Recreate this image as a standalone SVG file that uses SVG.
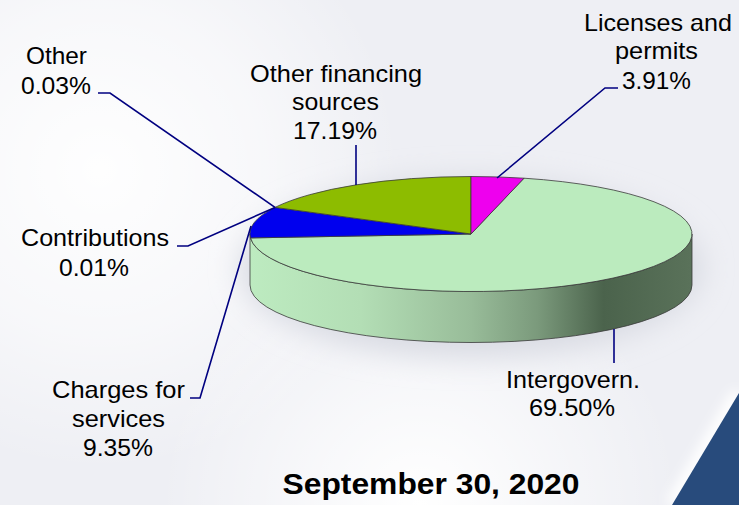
<svg xmlns="http://www.w3.org/2000/svg" width="739" height="505" viewBox="0 0 739 505">
  <style>
    .lbl { font-family: "Liberation Sans", Arial, sans-serif; font-size: 24px; fill: #000; text-anchor: middle; }
    .title { font-family: "Liberation Sans", Arial, sans-serif; font-size: 29px; font-weight: bold; fill: #000; text-anchor: middle; }
    .lead { fill: none; stroke: #000080; stroke-width: 1.6; }
    .slice { stroke: #3a3a3a; stroke-width: 0.8; stroke-linejoin: round; }
  </style>
  <defs>
    <radialGradient id="bgWhite" cx="100" cy="170" r="300" gradientUnits="userSpaceOnUse">
      <stop offset="0" stop-color="#ffffff" stop-opacity="0.95"/>
      <stop offset="0.55" stop-color="#ffffff" stop-opacity="0.55"/>
      <stop offset="1" stop-color="#ffffff" stop-opacity="0"/>
    </radialGradient>
    <radialGradient id="bgBottom" cx="420" cy="505" r="260" gradientUnits="userSpaceOnUse">
      <stop offset="0" stop-color="#ffffff" stop-opacity="1"/>
      <stop offset="1" stop-color="#ffffff" stop-opacity="0"/>
    </radialGradient>
    <linearGradient id="side" x1="250" y1="0" x2="692" y2="0" gradientUnits="userSpaceOnUse">
      <stop offset="0" stop-color="#BDEBC0"/>
      <stop offset="0.25" stop-color="#B3DEB5"/>
      <stop offset="0.5" stop-color="#98BC99"/>
      <stop offset="0.65" stop-color="#7B9A7C"/>
      <stop offset="0.8" stop-color="#4B634C"/>
      <stop offset="1" stop-color="#5A725A"/>
    </linearGradient>
    <filter id="blur" x="-20%" y="-40%" width="140%" height="180%">
      <feGaussianBlur stdDeviation="14"/>
    </filter>
    <filter id="blur2" x="-50%" y="-50%" width="200%" height="200%">
      <feGaussianBlur stdDeviation="6"/>
    </filter>
  </defs>

  <!-- background -->
  <rect x="0" y="0" width="739" height="505" fill="#EEEFF4"/>
  <rect x="0" y="0" width="739" height="505" fill="url(#bgWhite)"/>
  <rect x="0" y="0" width="739" height="505" fill="url(#bgBottom)"/>
  <path d="M739,393 L672,505" stroke="#ffffff" stroke-width="14" filter="url(#blur2)" fill="none"/>
  <path d="M739,393 L672,505 L739,505 Z" fill="#284B7C"/>

  <!-- pie shadow -->
  <ellipse cx="471" cy="268" rx="232" ry="90" fill="#D9DBE3" filter="url(#blur)"/>

  <!-- pie -->
  <g id="pie">
    <path id="side-intergovern" class="slice" fill="url(#side)" d="M250,234 A221,57.5 0 0 0 692,234 L692,285 A221,57.5 0 0 1 250,285 Z"/>
    <g id="slice-intergovern">
      <path class="slice" fill="#BBEBBE" d="M471,234 L524,178.2 A221,57.5 0 1 1 250.5,237.9 Z"/>
    </g>
    <g id="slice-charges">
      <path class="slice" fill="#0000EE" d="M471,234 L250.5,237.9 A221,57.5 0 0 1 275,207.4 Z"/>
    </g>
    <g id="slice-other-financing">
      <path class="slice" fill="#8DBC00" d="M471,234 L275,207.4 A221,57.5 0 0 1 471,176.5 Z"/>
    </g>
    <g id="slice-licenses">
      <path class="slice" fill="#EE00EE" d="M471,234 L471,176.5 A221,57.5 0 0 1 524,178.2 Z"/>
    </g>
  </g>

  <!-- connectors -->
  <g id="connectors">
    <path class="lead" d="M98,93 L110,93 L275,207.4"/>
    <path class="lead" d="M177,246 L188,246 L275,207.4"/>
    <path class="lead" d="M190,398 L200,398 L251,226"/>
    <path class="lead" d="M356,145 L356,185"/>
    <path class="lead" d="M618,88 L605,88 L497,178"/>
    <path class="lead" d="M614,329 L614,363"/>
  </g>

  <!-- labels -->
  <g id="label-other">
    <text class="lbl" x="56.5" y="63.5" textLength="61" lengthAdjust="spacingAndGlyphs">Other</text>
    <text class="lbl" x="56" y="93.5" textLength="70" lengthAdjust="spacingAndGlyphs">0.03%</text>
  </g>
  <g id="label-other-financing">
    <text class="lbl" x="336" y="82" textLength="172" lengthAdjust="spacingAndGlyphs">Other financing</text>
    <text class="lbl" x="335.5" y="109.5" textLength="87" lengthAdjust="spacingAndGlyphs">sources</text>
    <text class="lbl" x="335" y="139" textLength="84" lengthAdjust="spacingAndGlyphs">17.19%</text>
  </g>
  <g id="label-licenses">
    <text class="lbl" x="658" y="31" textLength="148" lengthAdjust="spacingAndGlyphs">Licenses and</text>
    <text class="lbl" x="656.5" y="59" textLength="83" lengthAdjust="spacingAndGlyphs">permits</text>
    <text class="lbl" x="656.5" y="89" textLength="69" lengthAdjust="spacingAndGlyphs">3.91%</text>
  </g>
  <g id="label-contributions">
    <text class="lbl" x="95" y="246" textLength="148" lengthAdjust="spacingAndGlyphs">Contributions</text>
    <text class="lbl" x="94" y="275.5" textLength="70" lengthAdjust="spacingAndGlyphs">0.01%</text>
  </g>
  <g id="label-charges">
    <text class="lbl" x="118.5" y="398" textLength="133" lengthAdjust="spacingAndGlyphs">Charges for</text>
    <text class="lbl" x="118.5" y="427" textLength="93" lengthAdjust="spacingAndGlyphs">services</text>
    <text class="lbl" x="118" y="455.5" textLength="70" lengthAdjust="spacingAndGlyphs">9.35%</text>
  </g>
  <g id="label-intergovern">
    <text class="lbl" x="573" y="388" textLength="134" lengthAdjust="spacingAndGlyphs">Intergovern.</text>
    <text class="lbl" x="572" y="416" textLength="86" lengthAdjust="spacingAndGlyphs">69.50%</text>
  </g>
  <g id="title">
    <text class="title" x="431" y="493.5" textLength="297" lengthAdjust="spacingAndGlyphs">September 30, 2020</text>
  </g>
</svg>
